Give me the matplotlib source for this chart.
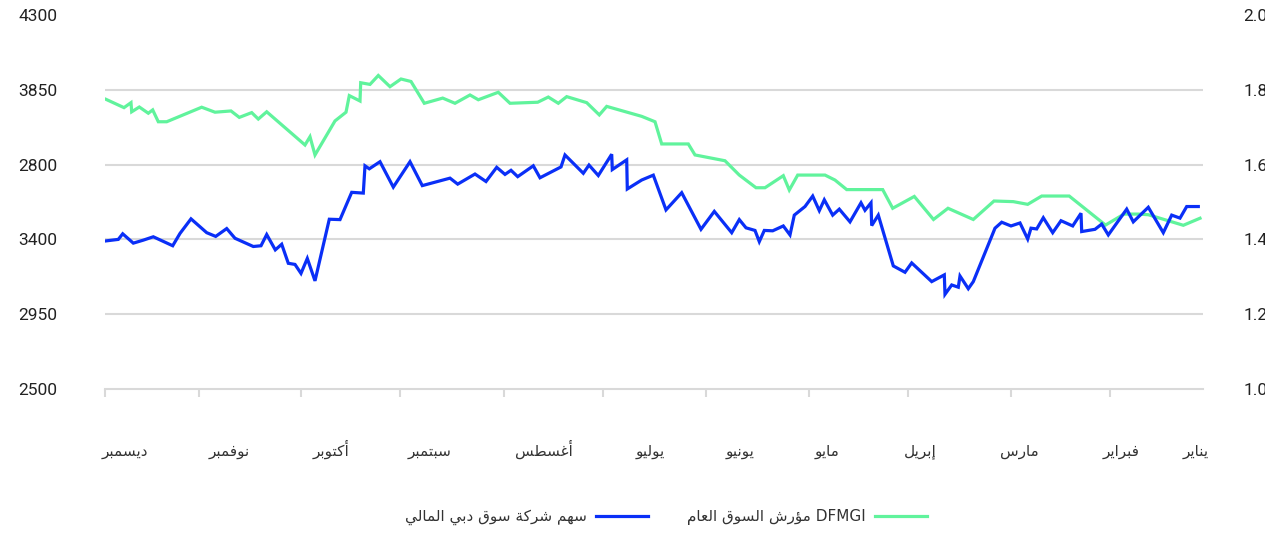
import matplotlib
matplotlib.use("Agg")
import matplotlib.pyplot as plt
import numpy as np

# ---------------- data ----------------
# time index (left -> right; chart is right-to-left: January on the right)
blue_t = [1, 13.3, 17.7, 28.3, 38.3, 48.3, 67.7, 75, 86, 101.7, 110.7, 121.7, 130, 148.3, 156, 161.7,
          170.3, 176.7, 183.3, 190, 196, 202.3, 210, 224.3, 235, 246.7, 258.3, 260, 264.3, 275, 288.3,
          305, 317.3, 345, 352.7, 370, 381, 391.7, 400, 406, 412.7, 428.3, 435, 456, 460, 478.3, 484,
          493.3, 506.7, 507.3, 521.7, 522.3, 536.7, 548.3, 561, 576.7, 596, 609.3, 626.7, 634.3, 641,
          650, 654.3, 659.3, 667.7, 678.3, 685, 689.3, 700, 707.7, 714.3, 719.3, 727.7, 734.3, 745,
          756, 760, 766, 766.7, 773.3, 788.3, 800, 806.7, 826.7, 839.3, 840, 846.7, 853.3, 855, 863.3,
          868.3, 890, 896.7, 906, 915, 922.7, 926, 931.7, 938.3, 947.7, 956, 967.7, 976, 976.7, 990,
          996.7, 1003.3, 1021.7, 1028.3, 1043.3, 1058.3, 1066.7, 1075, 1081.7, 1093.3]
blue_v = [1.396, 1.400, 1.415, 1.390, 1.398, 1.407, 1.383, 1.416, 1.455, 1.418, 1.408, 1.429, 1.403,
          1.381, 1.383, 1.413, 1.372, 1.387, 1.336, 1.333, 1.309, 1.349, 1.289, 1.454, 1.453, 1.526,
          1.524, 1.597, 1.589, 1.608, 1.540, 1.608, 1.544, 1.564, 1.548, 1.575, 1.555, 1.593, 1.574,
          1.585, 1.568, 1.597, 1.565, 1.594, 1.626, 1.577, 1.599, 1.571, 1.628, 1.587, 1.613, 1.535,
          1.559, 1.572, 1.479, 1.525, 1.427, 1.475, 1.418, 1.453, 1.431, 1.424, 1.394, 1.424, 1.423,
          1.436, 1.412, 1.465, 1.488, 1.516, 1.477, 1.506, 1.465, 1.481, 1.447, 1.498, 1.478, 1.498,
          1.437, 1.465, 1.329, 1.312, 1.337, 1.287, 1.305, 1.253, 1.278, 1.272, 1.302, 1.268, 1.287,
          1.430, 1.446, 1.436, 1.444, 1.401, 1.430, 1.428, 1.458, 1.418, 1.450, 1.436, 1.470, 1.421,
          1.427, 1.441, 1.412, 1.481, 1.447, 1.486, 1.418, 1.465, 1.457, 1.488, 1.488]

green_t = [1, 19, 26, 26.7, 34.3, 43.3, 47.7, 53.3, 61.7, 96.7, 110, 126, 134.3, 146.7, 153.3, 161.7,
           200, 205, 210, 230, 241, 244.3, 255, 255.7, 265, 273.3, 285, 296, 306, 319.3, 337.7, 350,
           365, 373.3, 393.3, 405, 432.7, 443.3, 453.3, 461.7, 481.7, 494.3, 501.7, 536.7, 550, 556.7,
           583.3, 590, 620, 634.3, 651, 660, 678.3, 684.3, 692.7, 720, 730, 741.7, 777.7, 787.7, 809.3,
           828.5, 843, 868.3, 889, 908.3, 922.7, 936.7, 964.2, 1000.5, 1019, 1033.3, 1043.3, 1078.3, 1095]
green_v = [3895, 3855, 3879, 3835, 3858, 3828, 3844, 3787, 3787, 3857, 3833, 3839, 3808, 3831, 3800, 3835,
           3675, 3715, 3627, 3791, 3833, 3913, 3887, 3975, 3967, 4010, 3956, 3993, 3981, 3876, 3901, 3876,
           3916, 3893, 3929, 3876, 3881, 3906, 3876, 3908, 3879, 3820, 3861, 3813, 3787, 3680,
           3680, 3627, 3599, 3530, 3469, 3469, 3527, 3458, 3530, 3530, 3506, 3460, 3460, 3370, 3427,
           3316, 3370, 3316, 3405, 3402, 3389, 3429, 3429, 3289, 3342, 3342, 3339, 3288, 3322]

months = ["ديسمبر", "نوفمبر", "أكتوبر", "سبتمبر", "أغسطس", "يوليو",
          "يونيو", "مايو", "إبريل", "مارس", "فبراير", "يناير"]
month_bounds = [0, 94, 196, 295, 399, 498, 601, 704, 803, 906, 1005]
month_label_pos = [20, 124, 226, 325, 439, 545, 635, 722, 815, 914, 1016, 1091]

left_ticks = [2500, 2860, 3220, 3580, 3940, 4300]
left_labels = ["2500", "2950", "3400", "2800", "3850", "4300"]
right_ticks = [1.0, 1.2, 1.4, 1.6, 1.8, 2.0]
right_labels = ["1.0", "1.2", "1.4", "1.6", "1.8", "2.0"]

blue_name = "سهم شركة سوق دبي المالي"
green_name = "DFMGI مؤرش السوق العام"

# ---------------- Arabic shaping (presentation forms + visual order) ----------------
AR = {
    '\u0627': ('\uFE8D', '\uFE8E', None, None),
    '\u0623': ('\uFE83', '\uFE84', None, None),
    '\u0625': ('\uFE87', '\uFE88', None, None),
    '\u0624': ('\uFE85', '\uFE86', None, None),
    '\u0628': ('\uFE8F', '\uFE90', '\uFE91', '\uFE92'),
    '\u0629': ('\uFE93', '\uFE94', None, None),
    '\u062A': ('\uFE95', '\uFE96', '\uFE97', '\uFE98'),
    '\u062F': ('\uFEA9', '\uFEAA', None, None),
    '\u0631': ('\uFEAD', '\uFEAE', None, None),
    '\u0633': ('\uFEB1', '\uFEB2', '\uFEB3', '\uFEB4'),
    '\u0634': ('\uFEB5', '\uFEB6', '\uFEB7', '\uFEB8'),
    '\u0637': ('\uFEC1', '\uFEC2', '\uFEC3', '\uFEC4'),
    '\u0639': ('\uFEC9', '\uFECA', '\uFECB', '\uFECC'),
    '\u063A': ('\uFECD', '\uFECE', '\uFECF', '\uFED0'),
    '\u0641': ('\uFED1', '\uFED2', '\uFED3', '\uFED4'),
    '\u0642': ('\uFED5', '\uFED6', '\uFED7', '\uFED8'),
    '\u0643': ('\uFED9', '\uFEDA', '\uFEDB', '\uFEDC'),
    '\u0644': ('\uFEDD', '\uFEDE', '\uFEDF', '\uFEE0'),
    '\u0645': ('\uFEE1', '\uFEE2', '\uFEE3', '\uFEE4'),
    '\u0646': ('\uFEE5', '\uFEE6', '\uFEE7', '\uFEE8'),
    '\u0647': ('\uFEE9', '\uFEEA', '\uFEEB', '\uFEEC'),
    '\u0648': ('\uFEED', '\uFEEE', None, None),
    '\u064A': ('\uFEF1', '\uFEF2', '\uFEF3', '\uFEF4'),
}


def shape(word):
    out = []
    n = len(word)
    for i, ch in enumerate(word):
        if ch not in AR:
            out.append(ch)
            continue
        f = AR[ch]
        prev = word[i - 1] if i > 0 else None
        nxt = word[i + 1] if i < n - 1 else None
        jp = prev in AR and AR[prev][2] is not None
        jn = nxt in AR and f[2] is not None
        if jp and jn:
            out.append(f[3])
        elif jp:
            out.append(f[1])
        elif jn:
            out.append(f[2])
        else:
            out.append(f[0])
    return ''.join(out)


def ar(text):
    # right-to-left paragraph: reverse word order, shape + reverse Arabic words
    words = text.split(' ')
    vis = []
    for w in reversed(words):
        if any('\u0600' <= c <= '\u06FF' for c in w):
            vis.append(shape(w)[::-1])
        else:
            vis.append(w)
    return ' '.join(vis)


# ---------------- figure ----------------
BLUE = "#0a2ff7"
GREEN = "#60f39c"
GRID = "#d9d9d9"
TXT = "#222222"

fig = plt.figure(figsize=(12.65, 5.33), dpi=100)
ax = fig.add_axes([105 / 1265, 1 - 388.8 / 533, 1098 / 1265, 373.5 / 533])
ax2 = ax.twinx()

ax.set_xlim(0, 1098)
ax.set_ylim(2500, 4300)
ax2.set_ylim(1.0, 2.0)

for y in left_ticks[1:-1]:
    ax.axhline(y, color=GRID, lw=1.5, zorder=0)

lg, = ax.plot(green_t, green_v, color=GREEN, lw=2.3, solid_joinstyle='miter', zorder=2)
lb, = ax2.plot(blue_t, blue_v, color=BLUE, lw=2.3, solid_joinstyle='miter', zorder=3)

for a in (ax, ax2):
    for s in ("top", "left", "right"):
        a.spines[s].set_visible(False)
    a.spines["bottom"].set_color(GRID)
    a.spines["bottom"].set_linewidth(1.5)
ax2.spines["bottom"].set_visible(False)

num_font = dict(family="Roboto", size=12.5)
ax.set_yticks(left_ticks)
ax.set_yticklabels(left_labels, fontdict=num_font, color=TXT, ha="left", va="center_baseline")
ax.tick_params(axis="y", length=0, pad=62.5)
ax2.set_yticks(right_ticks)
ax2.set_yticklabels(right_labels, fontdict=num_font, color=TXT, va="center_baseline")
ax2.tick_params(axis="y", length=0, pad=29)

ax.set_xticks(month_bounds)
ax.set_xticklabels([])
ax.tick_params(axis="x", which="major", length=6, width=1.5, color=GRID, direction="out")
ax.set_xticks(month_label_pos, minor=True)
ax.set_xticklabels([ar(m) for m in months], minor=True, fontsize=11,
                   family=["DejaVu Sans"], color="#333333", va="baseline")
ax.tick_params(axis="x", which="minor", length=0, pad=48)

leg = fig.legend([lb, lg], [ar(blue_name), ar(green_name)], loc="center",
                 bbox_to_anchor=(666 / 1265, 1 - 517 / 533), ncol=2, frameon=False,
                 markerfirst=False, handlelength=3.4, handletextpad=0.6, columnspacing=2.6,
                 prop=dict(family=["DejaVu Sans"], size=11))
for t in leg.get_texts():
    t.set_color("#333333")

fig.savefig("out.png", dpi=100)
